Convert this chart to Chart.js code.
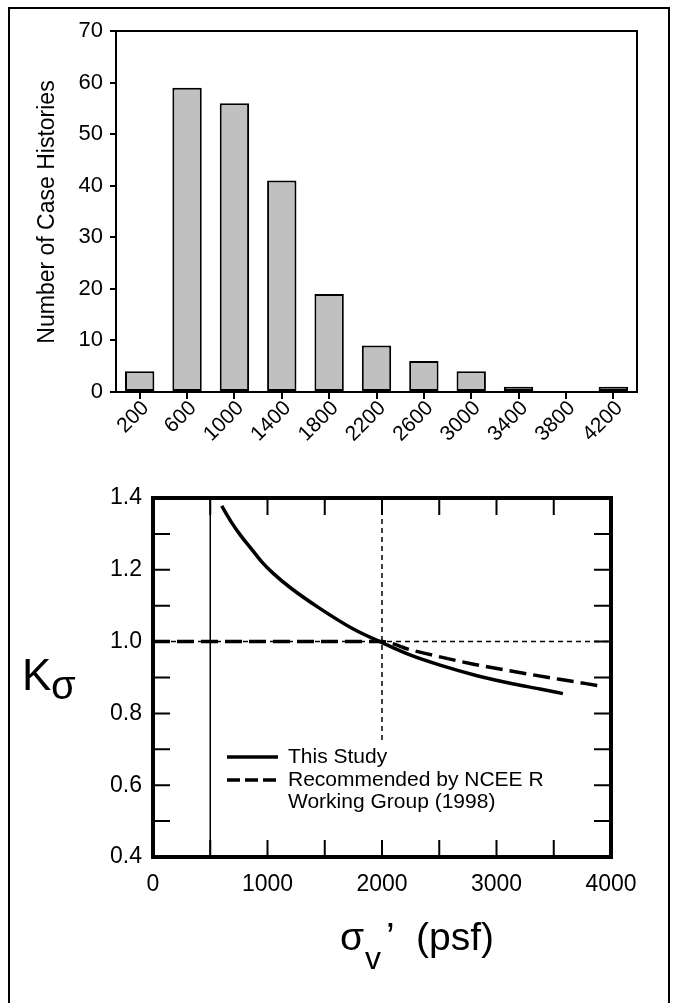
<!DOCTYPE html>
<html>
<head>
    <meta charset="utf-8" />
    <title>Case histories and K sigma</title>
    <style>
        body {
            margin: 0;
            background: #fff;
        }
        #frame {
            position: absolute;
            left: 8px;
            top: 7px;
            width: 658px;
            height: 1100px;
            border: 2px solid #000;
        }
        #histWrap {
            position: absolute;
            left: 0;
            top: 0;
        }
        #ksWrap {
            position: absolute;
            left: 0;
            top: 470px;
        }
    </style>
</head>

<body>
    <div id="frame"></div>
    <div id="histWrap"><canvas id="histCanvas" width="676" height="470"></canvas></div>
    <div id="ksWrap"><canvas id="ksCanvas" width="676" height="533"></canvas></div>
</body>

</html>

<script src="https://cdn.jsdelivr.net/npm/chart.js@4.4.1/dist/chart.umd.min.js"></script>
<script>
    //:: histogram data
    var binLabels = ['200', '600', '1000', '1400', '1800', '2200', '2600', '3000', '3400', '3800', '4200'];
    var caseCounts = [4, 59, 56, 41, 19, 9, 6, 4, 1, 0, 1];

    //:: K sigma curves (psf, K)
    var studyX = [600, 680, 760, 850, 950, 1050, 1200, 1450, 1750, 2000, 2250, 2500, 2830, 3150, 3380, 3580];
    var studyK = [1.378, 1.335, 1.298, 1.262, 1.222, 1.190, 1.150, 1.094, 1.035, 0.997, 0.962, 0.935, 0.905, 0.882, 0.868, 0.855];
    var nceerX = [0, 500, 1000, 1500, 2000, 2250, 2500, 2800, 3200, 3550, 3880];
    var nceerK = [1, 1, 1, 1, 1, 0.977, 0.958, 0.937, 0.914, 0.895, 0.878];

    //:: reference lines
    var line500X = [500, 500];
    var line500K = [0.4, 1.4];
    var line2000X = [2000, 2000];
    var line2000K = [0.726, 1.4];
    var lineOneX = [0, 4000];
    var lineOneK = [1, 1];

    var FONT = "'Liberation Sans', Arial, sans-serif";

    function pts(xs, ys) {
        var out = [];
        for (var i = 0; i < xs.length; i++) out.push({ x: xs[i], y: ys[i] });
        return out;
    }

    function boxPlugin(w) {
        return {
            id: 'box',
            afterDraw: function (chart) {
                var a = chart.chartArea, c = chart.ctx;
                c.save();
                c.strokeStyle = '#000';
                c.lineWidth = w;
                c.strokeRect(a.left, a.top, a.right - a.left, a.bottom - a.top);
                c.restore();
            }
        };
    }

    //:: top chart
    var histTitle = {
        id: 'histTitle',
        afterDraw: function (chart) {
            var c = chart.ctx;
            c.save();
            c.translate(48, 212);
            c.rotate(-Math.PI / 2);
            c.fillStyle = '#000';
            c.font = '23px ' + FONT;
            c.textAlign = 'center';
            c.textBaseline = 'middle';
            c.fillText('Number of Case Histories', 0, 0);
            c.restore();
        }
    };

    var chart1 = new Chart(document.getElementById('histCanvas').getContext('2d'), {
        type: 'bar',
        data: {
            labels: binLabels,
            datasets: [{
                data: caseCounts,
                backgroundColor: function (ctx) { return ctx.raw <= 1 ? '#ffffff' : '#c0c0c0'; },
                borderColor: '#000',
                borderWidth: 2,
                borderSkipped: false,
                barPercentage: 0.62,
                categoryPercentage: 1
            }]
        },
        options: {
            responsive: false,
            animation: false,
            layout: { padding: { top: 31, right: 39, left: 0, bottom: 0 } },
            plugins: { legend: { display: false }, tooltip: { enabled: false } },
            scales: {
                x: {
                    grid: { offset: false, drawOnChartArea: false, tickLength: 7, color: '#000', lineWidth: 2 },
                    border: { display: false },
                    ticks: { color: '#000', font: { family: FONT, size: 21 }, minRotation: 45, maxRotation: 45, autoSkip: false, padding: -3, labelOffset: 6 },
                    afterFit: function (s) { s.height = 78; }
                },
                y: {
                    min: 0,
                    max: 70,
                    grid: { drawOnChartArea: false, tickLength: 6, color: '#000', lineWidth: 2 },
                    border: { display: false },
                    ticks: { stepSize: 10, color: '#000', font: { family: FONT, size: 22 }, padding: 7 },
                    afterFit: function (s) { s.width = 116; }
                }
            }
        },
        plugins: [boxPlugin(2), histTitle]
    });

    //:: bottom chart
    var innerTicks = {
        id: 'innerTicks',
        afterDraw: function (chart) {
            var c = chart.ctx, a = chart.chartArea;
            var xs = chart.scales.x, ys = chart.scales.y;
            var L = 17;
            c.save();
            c.strokeStyle = '#000';
            c.lineWidth = 2;
            c.beginPath();
            xs.ticks.forEach(function (t) {
                var px = xs.getPixelForValue(t.value);
                c.moveTo(px, a.bottom); c.lineTo(px, a.bottom - L);
                c.moveTo(px, a.top); c.lineTo(px, a.top + L);
            });
            ys.ticks.forEach(function (t) {
                var py = ys.getPixelForValue(t.value);
                c.moveTo(a.left, py); c.lineTo(a.left + L, py);
                c.moveTo(a.right, py); c.lineTo(a.right - L, py);
            });
            c.stroke();
            c.restore();
        }
    };

    var ksText = {
        id: 'ksText',
        afterDraw: function (chart) {
            var c = chart.ctx, a = chart.chartArea;
            c.save();
            c.fillStyle = '#000';
            //:: legend
            var lx = a.left + 74, rows = [287, 310, 333];
            c.lineWidth = 3.5;
            c.strokeStyle = '#000';
            c.beginPath();
            c.moveTo(lx, rows[0]); c.lineTo(lx + 51, rows[0]);
            c.stroke();
            c.setLineDash([13, 5]);
            c.beginPath();
            c.moveTo(lx, rows[1]); c.lineTo(lx + 51, rows[1]);
            c.stroke();
            c.setLineDash([]);
            c.font = '21px ' + FONT;
            c.textBaseline = 'middle';
            c.fillText('This Study', lx + 61, rows[0]);
            c.fillText('Recommended by NCEE R', lx + 61, rows[1]);
            c.fillText('Working Group (1998)', lx + 61, rows[2] - 1);
            //:: y title K sigma
            c.textBaseline = 'alphabetic';
            c.font = '44px ' + FONT;
            c.fillText('K', 22, 220);
            c.font = '40px ' + FONT;
            c.fillText('σ', 51, 229);
            //:: x title
            c.font = '39px ' + FONT;
            c.fillText('σ', 340, 480);
            c.font = '32px ' + FONT;
            c.fillText('v', 365, 499);
            c.font = '39px ' + FONT;
            c.fillText('’', 386, 480);
            c.fillText('(psf)', 416, 480);
            c.restore();
        }
    };

    var chart2 = new Chart(document.getElementById('ksCanvas').getContext('2d'), {
        type: 'scatter',
        data: {
            datasets: [{
                label: 'This Study',
                data: pts(studyX, studyK),
                showLine: true,
                borderColor: '#000',
                borderWidth: 3.5,
                pointRadius: 0,
                cubicInterpolationMode: 'monotone'
            }, {
                label: 'Recommended by NCEER Working Group (1998)',
                data: pts(nceerX, nceerK),
                showLine: true,
                borderColor: '#000',
                borderWidth: 3.5,
                borderDash: [17, 7],
                pointRadius: 0,
                cubicInterpolationMode: 'monotone'
            }, {
                data: pts(line500X, line500K),
                showLine: true,
                borderColor: '#000',
                borderWidth: 1.5,
                pointRadius: 0
            }, {
                data: pts(line2000X, line2000K),
                showLine: true,
                borderColor: '#000',
                borderWidth: 1.5,
                borderDash: [5, 4],
                pointRadius: 0
            }, {
                data: pts(lineOneX, lineOneK),
                showLine: true,
                borderColor: '#000',
                borderWidth: 1.5,
                borderDash: [5, 4],
                pointRadius: 0
            }]
        },
        options: {
            responsive: false,
            animation: false,
            layout: { padding: { top: 28, right: 65, left: 0, bottom: 0 } },
            plugins: { legend: { display: false }, tooltip: { enabled: false } },
            scales: {
                x: {
                    type: 'linear',
                    min: 0,
                    max: 4000,
                    grid: { display: false },
                    border: { display: false },
                    ticks: {
                        stepSize: 500,
                        color: '#000',
                        font: { family: FONT, size: 23 },
                        padding: 6,
                        maxRotation: 0,
                        autoSkip: false,
                        callback: function (v) { return v % 1000 === 0 ? String(v) : ''; }
                    },
                    afterFit: function (s) { s.height = 146; }
                },
                y: {
                    min: 0.4,
                    max: 1.4,
                    grid: { display: false },
                    border: { display: false },
                    ticks: {
                        stepSize: 0.1,
                        color: '#000',
                        font: { family: FONT, size: 23 },
                        padding: 3,
                        autoSkip: false,
                        callback: function (v) { return Math.round(v * 10) % 2 === 0 ? v.toFixed(1) : ''; }
                    },
                    afterFit: function (s) { s.width = 153; }
                }
            }
        },
        plugins: [boxPlugin(4), innerTicks, ksText]
    });
</script>
